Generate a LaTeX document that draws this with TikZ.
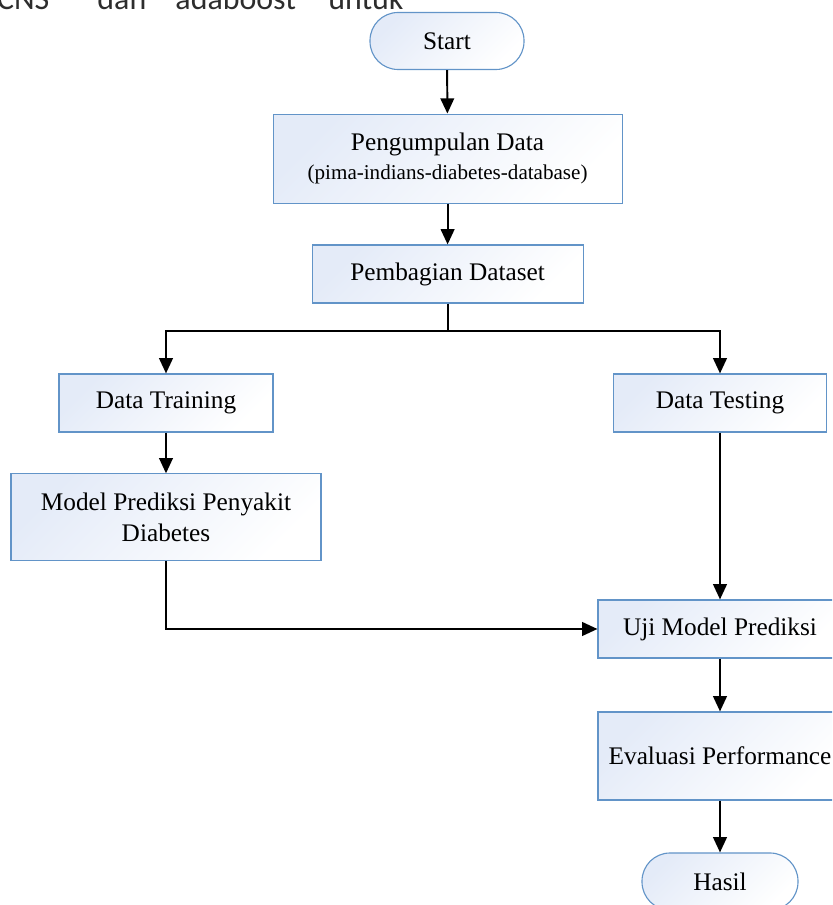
\documentclass[tikz,border=0pt]{standalone}
\usepackage{fontspec}
\setmainfont{Liberation Serif}
\newfontfamily\pagefont{Carlito}
\usetikzlibrary{arrows.meta}
\definecolor{boxline}{RGB}{98,148,200}
\definecolor{boxfill}{RGB}{228,235,248}
\definecolor{pagetext}{RGB}{45,45,45}
\tikzset{
	process/.style={draw=boxline, line width=0.8pt, top color=boxfill, bottom color=white, shading angle=45,
		align=center, font=\fontsize{18}{22.5}\selectfont, inner sep=0pt},
	terminal/.style={process, rounded corners=0.7cm},
	flow/.style={line width=1.4pt, -{Triangle[width=0.34cm,length=0.38cm]}},
	pageword/.style={anchor=base west, inner sep=0pt, text=pagetext, font=\pagefont\fontsize{22.7}{26}\selectfont}
}

\begin{document}
\begin{tikzpicture}
	% 832 x 905 px, 1 px = 0.025 cm
	\useasboundingbox (0, 0) rectangle (20.8, 22.625);
	\clip (0, 0) rectangle (20.8, 22.625);
	
	% line of page text cut off at the top
	\node[pageword] (w1) at (-0.08, 22.375) {CNS};
	\node[pageword] (w2) at (2.43, 22.375) {dan};
	\node[pageword] (w3) at (4.38, 22.375) {adaboost};
	\node[pageword] (w4) at (8.2, 22.375) {untuk};
	
	% boxes
	\node[terminal, minimum width=3.85cm, minimum height=1.425cm] (start) at (11.175, 21.6) {Start};
	\node[process, minimum width=8.725cm, minimum height=2.225cm] (kumpul) at (11.19, 18.66)
		{Pengumpulan Data\\[-2pt]{\fontsize{15}{18}\selectfont (pima-indians-diabetes-database)}};
	\node[process, minimum width=6.775cm, minimum height=1.45cm] (bagi) at (11.19, 15.775) {Pembagian Dataset};
	\node[process, minimum width=5.35cm, minimum height=1.45cm] (training) at (4.15, 12.55) {Data Training};
	\node[process, minimum width=5.325cm, minimum height=1.45cm] (testing) at (18.0, 12.55) {Data Testing};
	\node[process, minimum width=7.75cm, minimum height=2.175cm] (model) at (4.15, 9.69)
		{Model Prediksi Penyakit\\Diabetes};
	\node[process, minimum width=6.1cm, minimum height=1.45cm] (uji) at (18.0, 6.9) {Uji Model Prediksi};
	\node[process, minimum width=6.1cm, minimum height=2.2cm] (evaluasi) at (18.0, 3.725) {Evaluasi Performance};
	\node[terminal, minimum width=3.9cm, minimum height=1.425cm] (hasil) at (18.0, 0.5875) {Hasil};
	
	\coordinate (split) at (11.19, 14.35);
	
	% arrows
	\draw[flow] (start) -- (kumpul);
	\draw[flow] (kumpul) -- (bagi);
	\draw[line width=1.4pt] (bagi) -- (split);
	\draw[flow] (split) -| (training);
	\draw[flow] (split) -| (testing);
	\draw[flow] (training) -- (model);
	\draw[flow] (testing) -- (uji);
	\draw[flow] (model) |- (uji);
	\draw[flow] (uji) -- (evaluasi);
	\draw[flow] (evaluasi) -- (hasil);
\end{tikzpicture}
\end{document}
